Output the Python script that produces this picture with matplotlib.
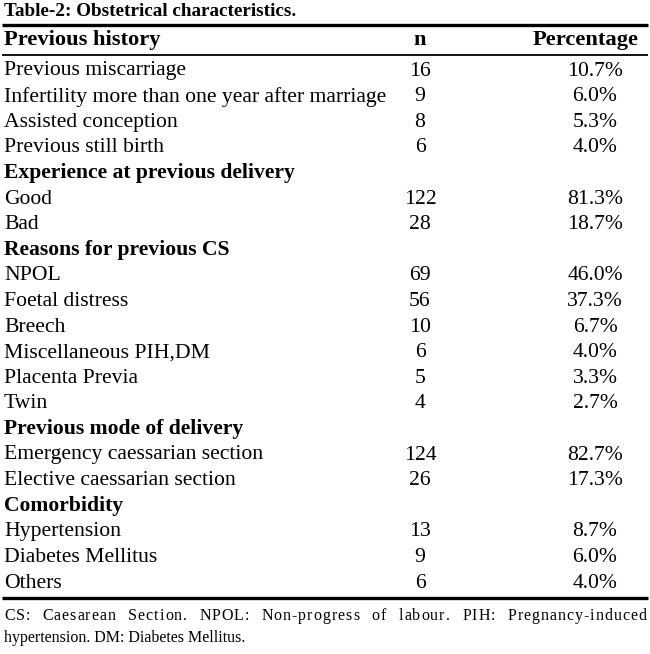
import matplotlib
matplotlib.use("Agg")
import matplotlib.pyplot as plt

title = "Table-2: Obstetrical characteristics."
headers = ["Previous history", "n", "Percentage"]
# (label, n, pct) ; n None => section heading
rows = [
    ("Previous miscarriage", "16", "10.7%"),
    ("Infertility more than one year after marriage", "9", "6.0%"),
    ("Assisted conception", "8", "5.3%"),
    ("Previous still birth", "6", "4.0%"),
    ("Experience at previous delivery", None, None),
    ("Good", "122", "81.3%"),
    ("Bad", "28", "18.7%"),
    ("Reasons for previous CS", None, None),
    ("NPOL", "69", "46.0%"),
    ("Foetal distress", "56", "37.3%"),
    ("Breech", "10", "6.7%"),
    ("Miscellaneous PIH,DM", "6", "4.0%"),
    ("Placenta Previa", "5", "3.3%"),
    ("Twin", "4", "2.7%"),
    ("Previous mode of delivery", None, None),
    ("Emergency caessarian section", "124", "82.7%"),
    ("Elective caessarian section", "26", "17.3%"),
    ("Comorbidity", None, None),
    ("Hypertension", "13", "8.7%"),
    ("Diabetes Mellitus", "9", "6.0%"),
    ("Others", "6", "4.0%"),
]
footer1 = "CS: Caesarean Section. NPOL: Non-progress of labour. PIH: Pregnancy-induced"
footer2 = "hypertension. DM: Diabetes Mellitus."

W, H = 650, 654
fig = plt.figure(figsize=(W / 100, H / 100), dpi=100)
ax = fig.add_axes([0, 0, 1, 1])
ax.set_xlim(0, W)
ax.set_ylim(H, 0)
ax.axis("off")

FONT = "Liberation Serif"
fs = 15.6
hfs = 16.2

ax.text(4, 12, title, fontsize=13.8, fontweight="bold", family=FONT, va="center", ha="left")
ax.plot([2, 648], [25, 25], color="black", lw=2.4, solid_capstyle="butt")
ax.text(4, 40, headers[0], fontsize=hfs, fontweight="bold", family=FONT, va="center", ha="left")
ax.text(420, 40, headers[1], fontsize=hfs, fontweight="bold", family=FONT, va="center", ha="center")
ax.text(586, 40, headers[2], fontsize=hfs, fontweight="bold", family=FONT, va="center", ha="center")
ax.plot([2, 648], [55, 55], color="black", lw=1.3, solid_capstyle="butt")

y0, dy = 71, 25.6
for i, (lab, n, p) in enumerate(rows):
    y = y0 + i * dy
    if n is None:
        ax.text(4, y, lab, fontsize=fs, fontweight="bold", family=FONT, va="center", ha="left")
    else:
        ax.text(4, y, lab, fontsize=fs, family=FONT, va="center", ha="left")
        ax.text(420, y, n, fontsize=fs, family=FONT, va="center", ha="center")
        ax.text(595, y, p, fontsize=fs, family=FONT, va="center", ha="center")

ax.plot([2, 648], [598, 598], color="black", lw=2.4, solid_capstyle="butt")

# justified first footer line: extra space shared by letters and (more) by word gaps
fig.canvas.draw()
renderer = fig.canvas.get_renderer()
ffs = 11.5
chars = list(footer1)
tmp = [ax.text(0, 0, c if c != " " else "n", fontsize=ffs, family=FONT) for c in chars]
widths = []
for c, t in zip(chars, tmp):
    w = t.get_window_extent(renderer).width
    widths.append(w * 0.95 if c != " " else 3.5)
for t in tmp:
    t.remove()
left, right = 4, 646
n_sp = chars.count(" ")
n_gaps = len(chars) - 1
weight_units = (n_gaps - n_sp) * 1.0 + n_sp * 6.0
unit = (right - left - sum(widths)) / weight_units
x = left
for c, wd in zip(chars, widths):
    if c != " ":
        ax.text(x, 616, c, fontsize=ffs, family=FONT, va="center", ha="left")
        x += wd + unit
    else:
        x += wd + unit * 6.0
ax.text(4, 638, footer2, fontsize=ffs, family=FONT, va="center", ha="left")

fig.savefig("out.png", dpi=100)
